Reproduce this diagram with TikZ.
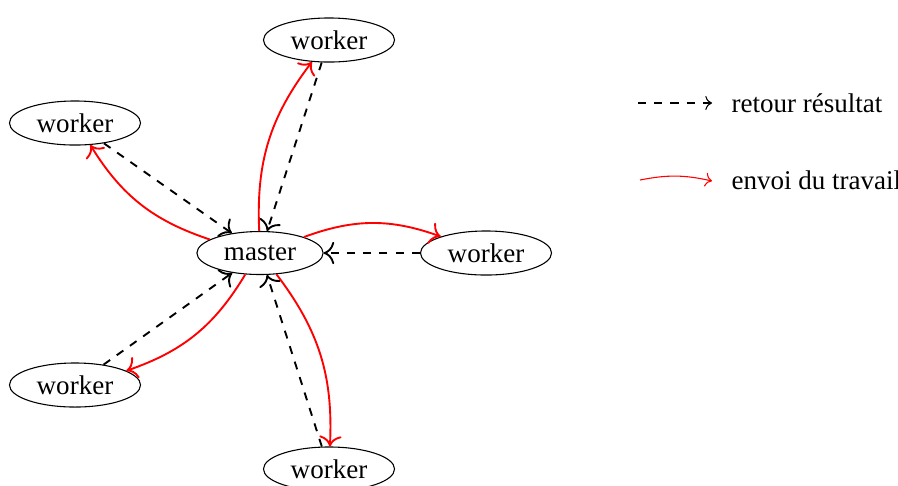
\documentclass[tikz,border=0pt]{standalone}
\usepackage{fontspec}
\setmainfont{Liberation Serif}
\usetikzlibrary{shapes.geometric,arrows.meta}
\begin{document}
\begin{tikzpicture}[x=0.37pt,y=-0.37pt,
  wk/.style={draw,ellipse,inner sep=0pt,minimum width=48.5pt,minimum height=16.3pt,font=\fontsize{10}{12}\selectfont},
  ms/.style={draw,ellipse,inner sep=0pt,minimum width=46.7pt,minimum height=15.9pt,font=\fontsize{10}{12}\selectfont},
  ret/.style={-{To[scale=1.25]},dashed,line width=0.7pt,black},
  env/.style={-{To[scale=1.25]},line width=0.7pt,red,bend left=20},
  lbl/.style={anchor=west,inner sep=0pt,font=\fontsize{10}{12}\selectfont}]
\useasboundingbox (0,0) rectangle (898,485);
\node[ms] (m) at (260,253) {master};
\node[wk] (wt) at (329,40) {worker};
\node[wk] (wlt) at (75,123) {worker};
\node[wk] (wr) at (486,253) {worker};
\node[wk] (wlb) at (75,385) {worker};
\node[wk] (wb) at (329,469) {worker};
\foreach \w in {wt,wlt,wr,wlb,wb}{
  \draw[ret] (\w) -- (m);
  \draw[env] (m) to (\w);
}
\coordinate (a1) at (638,103);
\coordinate (a2) at (712,103);
\coordinate (b1) at (640,180);
\coordinate (b2) at (712,181);
\draw[->,dashed,black] (a1) -- (a2);
\draw[->,red] (b1) to[bend left=12] (b2);
\node[lbl] (t1) at (731,103) {retour résultat};
\node[lbl] (t2) at (731,180) {envoi du travail};
\end{tikzpicture}
\end{document}
